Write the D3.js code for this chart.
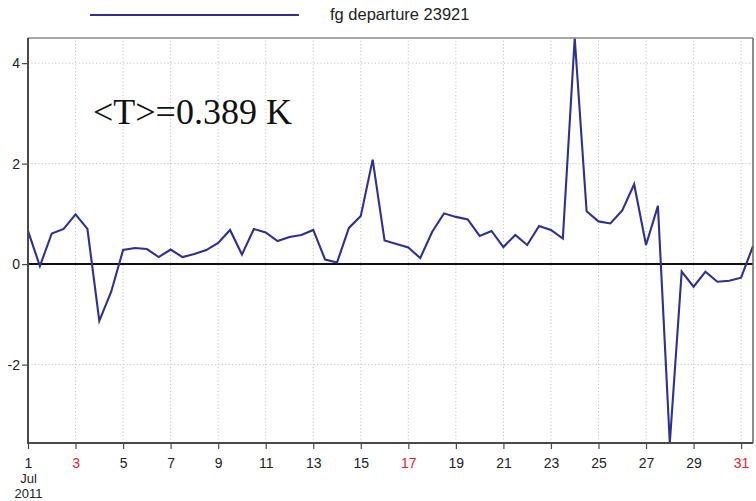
<!DOCTYPE html>
<html>
<head>
<meta charset="utf-8">
<script src="https://cdn.jsdelivr.net/npm/d3@7"></script>
<style>
  html, body { margin: 0; padding: 0; background: #fff; }
  svg { display: block; }
</style>
</head>
<body>
<svg id="chart" width="756" height="501"></svg>
<script>
// Twice-daily first-guess departures for station 23921, July 2011 (00 and 12 UTC)
const seriesName = "fg departure 23921";
const meanLabel = "<T>=0.389 K";
const startTime = Date.UTC(2011, 6, 1, 0);
const endTime = Date.UTC(2011, 6, 31, 12);
const departures = [
  0.66, -0.04, 0.61, 0.70, 0.99, 0.70, -1.13, -0.55, 0.28, 0.32,
  0.30, 0.14, 0.29, 0.14, 0.20, 0.28, 0.42, 0.68, 0.19, 0.70,
  0.63, 0.46, 0.54, 0.58, 0.68, 0.09, 0.03, 0.72, 0.96, 2.08,
  0.47, 0.40, 0.33, 0.12, 0.64, 1.01, 0.94, 0.89, 0.56, 0.66,
  0.34, 0.58, 0.38, 0.76, 0.68, 0.51, 4.50, 1.05, 0.85, 0.81,
  1.07, 1.59, 0.38, 1.16, -3.56, -0.15, -0.45, -0.15, -0.35, -0.33,
  -0.27, 0.36
];
const yTicks = [-2, 0, 2, 4];
const xTickDays = [1, 3, 5, 7, 9, 11, 13, 15, 17, 19, 21, 23, 25, 27, 29, 31];
const sundayDays = [3, 17, 31];
const firstTickLines = ["Jul", "2011"];

const points = departures.map((v, i) => ({
  t: d3.utcHour.offset(new Date(startTime), 12 * i),
  v
}));

const margin = { left: 28, right: 3, top: 38, bottom: 58 };
const W = 756, H = 501;
const svg = d3.select("#chart");

const x = d3.scaleUtc()
  .domain([new Date(startTime), new Date(endTime)])
  .range([margin.left, W - margin.right]);
const y = d3.scaleLinear()
  .domain(d3.extent(departures))
  .range([H - margin.bottom, margin.top]);

const x0 = margin.left, x1 = W - margin.right;
const y0 = H - margin.bottom, y1 = margin.top;
const sans = "'Liberation Sans', Arial, Helvetica, sans-serif";

// dotted grid
const grid = svg.append("g").attr("stroke", "#c4c4c4").attr("stroke-width", 1)
  .attr("stroke-dasharray", "1.2,2.2");
grid.selectAll("line.v")
  .data(xTickDays.filter(d => d !== 1))
  .join("line")
  .attr("x1", d => x(Date.UTC(2011, 6, d))).attr("x2", d => x(Date.UTC(2011, 6, d)))
  .attr("y1", y0).attr("y2", y1);
grid.selectAll("line.h")
  .data(yTicks.filter(d => d !== 0))
  .join("line")
  .attr("x1", x0).attr("x2", x1)
  .attr("y1", d => y(d)).attr("y2", d => y(d));

// zero reference
svg.append("line")
  .attr("x1", x0).attr("x2", x1)
  .attr("y1", y(0)).attr("y2", y(0))
  .attr("stroke", "#111").attr("stroke-width", 2);

// departure series
svg.append("path")
  .datum(points)
  .attr("fill", "none")
  .attr("stroke", "#2e3192")
  .attr("stroke-width", 2.1)
  .attr("stroke-linejoin", "miter")
  .attr("d", d3.line().x(d => x(d.t)).y(d => y(d.v)));

// frame: light top/right, heavier left/bottom
svg.append("line").attr("x1", x0).attr("x2", x1).attr("y1", y1).attr("y2", y1)
  .attr("stroke", "#8a8a8a").attr("stroke-width", 1.5);
svg.append("line").attr("x1", x1).attr("x2", x1).attr("y1", y1).attr("y2", y0)
  .attr("stroke", "#666").attr("stroke-width", 1.5);

// y axis (plain hyphen for negatives)
const yAxis = svg.append("g")
  .attr("transform", `translate(${x0},0)`)
  .call(d3.axisLeft(y).tickValues(yTicks).tickSize(6).tickPadding(2)
    .tickFormat(d => String(d)));
yAxis.select(".domain").attr("stroke", "#4a4a4a").attr("stroke-width", 2)
  .attr("d", `M0,${y1}V${y0 + 1}`);
yAxis.selectAll(".tick line").attr("stroke", "#4a4a4a").attr("stroke-width", 1.2);
yAxis.selectAll(".tick text").attr("font-family", sans).attr("font-size", 14).attr("fill", "#222");

// x axis
const xAxis = svg.append("g")
  .attr("transform", `translate(0,${y0})`)
  .call(d3.axisBottom(x)
    .tickValues(xTickDays.map(d => new Date(Date.UTC(2011, 6, d))))
    .tickSize(6).tickPadding(9)
    .tickFormat(d3.utcFormat("%-d")));
xAxis.select(".domain").attr("stroke", "#4a4a4a").attr("stroke-width", 2)
  .attr("d", `M${x0 - 1},0H${x1}`);
xAxis.selectAll(".tick line").attr("stroke", "#4a4a4a").attr("stroke-width", 1.2);
xAxis.selectAll(".tick text")
  .attr("font-family", sans).attr("font-size", 14)
  .attr("fill", d => sundayDays.includes(d.getUTCDate()) ? "#e8202a" : "#222");

// month and year stacked under the first day label
xAxis.selectAll(".tick text")
  .filter(d => d.getUTCDate() === 1)
  .each(function () {
    const t = d3.select(this);
    firstTickLines.forEach((line, i) => {
      t.append("tspan").attr("x", 0).attr("dy", 15)
        .attr("font-size", 13).text(line);
    });
  });

// legend
svg.append("line").attr("x1", 90).attr("x2", 299).attr("y1", 15).attr("y2", 15)
  .attr("stroke", "#2e3192").attr("stroke-width", 2.1);
svg.append("text").attr("x", 330).attr("y", 20)
  .attr("font-family", sans).attr("font-size", 16.5).attr("fill", "#222")
  .text(seriesName);

// mean annotation
svg.append("text").attr("x", 93).attr("y", 124)
  .attr("font-family", "'Liberation Serif', 'Times New Roman', serif")
  .attr("font-size", 36).attr("fill", "#111")
  .text(meanLabel);
</script>
</body>
</html>
